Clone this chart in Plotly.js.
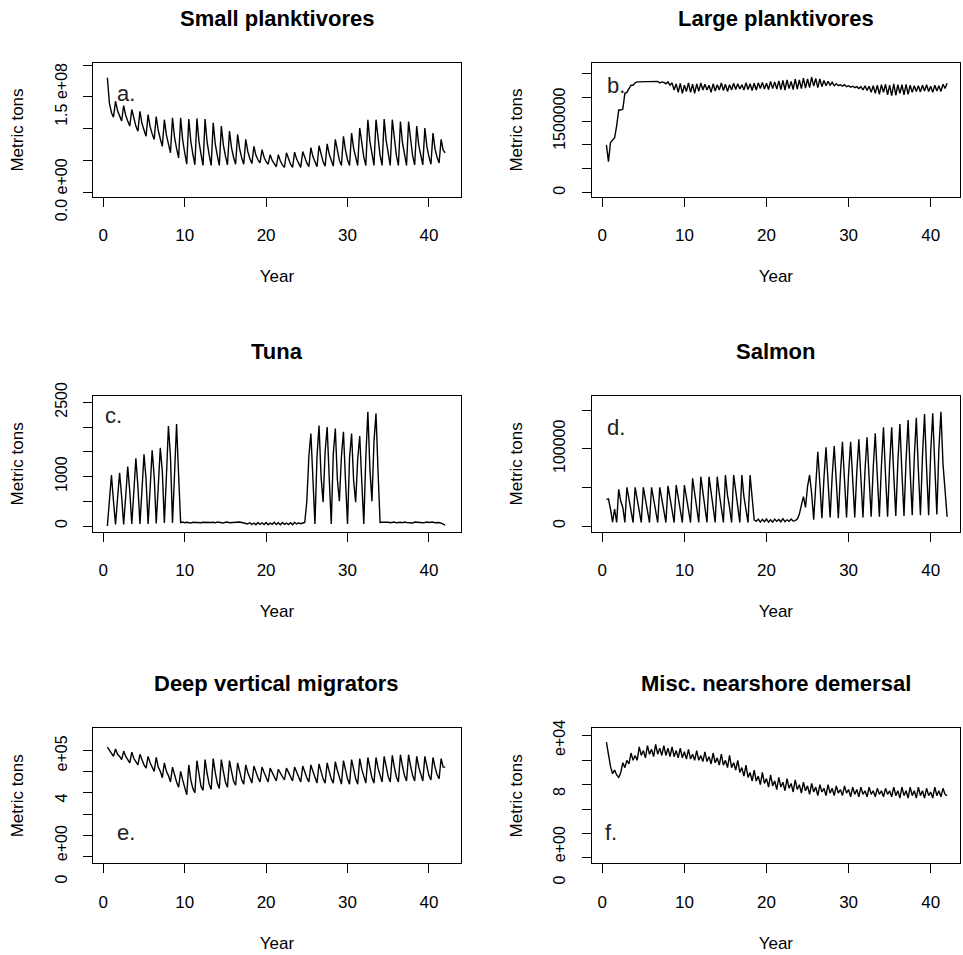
<!DOCTYPE html>
<html><head><meta charset="utf-8">
<script src="https://cdn.plot.ly/plotly-3.0.1.min.js"></script>
<style>html,body{margin:0;padding:0;background:#fff}#chart{width:963px;height:955px}</style>
</head><body><div id="chart"></div>
<script>
// ---- data (quarterly values) ----
// a. Small planktivores, million metric tons
const smallPlanktivores = [
180,140,125,118, 143,128,120,112, 136,121,112,104, 130,114,104,96,
127,108,97,88, 122,103,92,83, 119,97,84,72, 114,90,76,62,
117,86,69,54, 117,82,62,44, 115,80,60,43, 116,80,60,42,
115,79,59,42, 109,76,58,42, 104,74,57,43, 96,70,55,44,
91,68,54,44, 83,64,53,45, 72,58,51,46, 67,55,48,44,
59,50,45,40, 59,49,43,39, 62,51,44,39, 63,52,45,39,
64,53,46,40, 70,56,47,40, 73,58,48,41, 76,60,49,41,
83,63,50,42, 88,66,51,42, 93,69,53,42, 101,73,55,42,
114,80,58,42, 114,80,58,42, 115,81,58,42, 114,80,58,42,
111,78,57,42, 111,78,57,43, 104,74,56,43, 101,72,56,44,
93,68,55,46, 83,66,62];
// b. Large planktivores, thousand metric tons
const largePlanktivores = [
1000,650,1050,1100, 1150,1400,1730,1730, 1750,2080,2100,2180, 2250,2250,2300,2320,
2320,2330,2320,2320, 2330,2320,2330,2320, 2320,2330,2300,2320, 2310,2280,2320,2250,
2300,2150,2280,2100, 2290,2080,2250,2120, 2300,2100,2270,2080, 2280,2120,2300,2150,
2270,2150,2250,2100, 2280,2130,2260,2150, 2300,2140,2270,2120, 2260,2150,2290,2160,
2280,2170,2260,2150, 2300,2160,2280,2140, 2290,2150,2300,2180, 2310,2170,2290,2160,
2330,2180,2320,2170, 2340,2160,2350,2150, 2360,2180,2330,2160, 2380,2170,2360,2180,
2400,2190,2380,2200, 2420,2230,2390,2200, 2380,2220,2350,2240, 2330,2250,2310,2240,
2280,2240,2260,2230, 2260,2220,2240,2210, 2230,2200,2220,2180, 2220,2150,2240,2140,
2230,2100,2240,2080, 2250,2060,2260,2100, 2270,2050,2250,2030, 2280,2040,2260,2080,
2260,2050,2270,2060, 2250,2100,2240,2120, 2240,2110,2250,2130, 2260,2120,2230,2100,
2250,2130,2240,2120, 2270,2180,2290];
// c. Tuna, metric tons
const tuna = [
0,490,1030,500, 30,560,1077,600, 30,600,1200,700, 40,700,1370,800,
40,730,1450,950, 40,760,1530,1000, 50,800,1580,1100, 60,1000,2020,1400,
60,1050,2060,1030, 70,80,65,75, 70,60,75,70, 80,70,65,75,
70,80,60,70, 75,65,80,70, 70,60,75,80, 65,70,60,75,
70,80,70,60, 55,40,70,30, 60,25,70,35, 65,30,70,25,
60,35,75,30, 65,25,70,35, 60,30,65,25, 70,40,65,45,
60,70,500,1400, 1870,950,40,1400, 2030,1000,480,1500, 2000,980,40,1450,
1970,950,500,1400, 1905,930,40,1380, 1870,920,480,1350, 1820,900,40,1400,
2310,1150,500,1700, 2275,1100,70,75, 80,70,75,65, 70,80,65,75,
75,65,80,70, 70,75,60,80, 75,70,80,65, 70,80,70,75,
80,65,75,70, 60,40,20];
// d. Salmon, metric tons
const salmon = [
34500,35000,22000,5000, 22000,4500,47400,32000, 24000,4500,50000,34000, 22000,4500,50000,35000,
24000,4500,50000,33000, 22000,4500,50000,35000, 24000,4500,50000,34000, 22000,4500,52000,36000,
25000,4500,53000,35000, 22000,4500,53000,37000, 25000,4500,61600,40000, 24000,4500,63800,42000,
25000,4500,63800,40000, 24000,4500,63800,42000, 25000,4500,66000,40000, 24000,4500,66000,41000,
25000,4500,66000,38000, 22000,4500,66000,38000, 7800,6000,9000,5000, 8500,5500,9000,5000,
8000,5000,9000,6000, 8500,5500,9500,5500, 8000,6000,9000,6500, 7000,9000,15000,27000,
38000,24000,51000,66000, 42000,8000,60000,96000, 55000,10000,62000,101700, 57000,11000,64000,103400,
58000,10000,66000,109000, 60000,11000,68000,109000, 60000,11000,70000,112000, 62000,11000,72000,114700,
62000,12000,75000,119800, 64000,12000,78000,127600, 65000,12000,80000,127600, 66000,13000,82000,131900,
68000,13000,85000,137000, 70000,14000,88000,140000, 72000,14000,90000,144800, 75000,14000,95000,145700,
78000,15000,100000,147800, 80000,44000,12000];
// e. Deep vertical migrators, thousand metric tons
const deepMigrators = [
514,500,480,470, 505,480,470,455, 495,470,455,440, 490,460,445,430,
480,450,430,415, 470,440,420,400, 465,420,400,370, 440,400,380,350,
420,380,350,325, 400,360,320,290, 430,360,320,300, 450,380,330,310,
455,390,340,315, 460,395,345,320, 455,400,350,325, 450,400,355,335,
440,400,360,340, 430,395,365,345, 425,395,370,350, 420,395,370,350,
415,395,375,355, 410,390,375,360, 415,395,375,355, 420,395,370,350,
425,395,370,350, 430,400,370,345, 435,400,365,345, 440,400,365,345,
445,405,365,340, 450,405,365,340, 455,410,365,340, 460,410,370,345,
465,415,370,345, 465,415,375,350, 470,420,375,350, 475,420,375,350,
478,425,380,355, 478,425,380,355, 470,420,380,355, 470,420,380,360,
465,420,385,365, 460,420,420];
// f. Misc. nearshore demersal, thousand metric tons
const nearshoreDemersal = [
95,85,75,69, 72,68,66,70, 78,74,80,77, 86,80,84,80,
91,84,88,82, 92,85,89,83, 93,85,90,84, 92,84,90,83,
91,83,88,82, 90,82,87,81, 89,81,85,80, 88,80,84,79,
87,79,83,77, 86,78,82,76, 85,76,80,74, 84,74,78,72,
80,70,74,67, 76,66,70,63, 72,63,67,60, 70,61,65,58,
68,59,63,56, 66,58,62,55, 65,57,61,54, 64,56,60,53,
62,55,59,52, 61,54,58,51, 60,54,57,51, 60,53,57,51,
59,53,56,51, 59,53,56,50, 58,52,56,50, 58,52,55,50,
58,52,55,50, 57,52,55,50, 57,52,55,50, 58,51,55,49,
58,51,55,49, 58,51,55,49, 58,51,55,49, 57,51,54,49,
58,51,55,50, 57,52,51];

// ---- tick labels ----
const yearTicks = [0, 10, 20, 30, 40];
const aTicks = [0, 5e7, 1e8, 1.5e8, 2e8];
const aTickText = ['0.0 e+00', '', '', '1.5 e+08', ''];
const bTicks = [0, 5e5, 1e6, 1.5e6, 2e6, 2.5e6];
const bTickText = ['0', '', '', '1500000', '', ''];
const cTicks = [0, 500, 1000, 1500, 2000, 2500];
const cTickText = ['0', '', '1000', '', '', '2500'];
const dTicks = [0, 50000, 100000, 150000];
const dTickText = ['0', '', '100000', ''];
const eTicks = [0, 1e5, 2e5, 3e5, 4e5, 5e5];
const eTickText = ['0\u00a0\u00a0\u00a0e+00', '', '', '', '4\u00a0\u00a0\u00a0\u00a0\u00a0e+05', ''];
const fTicks = [0, 2e4, 4e4, 6e4, 8e4, 1e5];
const fTickText = ['0\u00a0\u00a0\u00a0e+00', '', '', '', '8\u00a0\u00a0\u00a0\u00a0\u00a0\u00a0\u00a0e+04', ''];

// ---- time axis: quarterly steps starting mid-year 0 ----
const t0 = 0.5, dt = 0.25;
function timeSteps(n) { const t = []; for (let i = 0; i < n; i++) t.push(t0 + dt * i); return t; }

// ---- layout geometry (pixels) ----
const W = 963, H = 955;
const px = x => x / W, py = y => 1 - y / H;
const cols = { L: [93.3, 460.5], R: [591.7, 960] };
const rows = { 1: [63.3, 196.7], 2: [396, 531.7], 3: [728.3, 863.3] };
const xRange = { L: [-1.23, 43.88], R: [-1.29, 43.57] };

const panels = [
  { title: 'Small planktivores', letter: 'a.', v: smallPlanktivores, k: 1e6, c: 'L', r: 1, yr: [-7.1e6, 202.7e6], tv: aTicks, tt: aTickText, lp: [115, 94] },
  { title: 'Large planktivores', letter: 'b.', v: largePlanktivores, k: 1e3, c: 'R', r: 1, yr: [-84e3, 2709e3], tv: bTicks, tt: bTickText, lp: [605, 85] },
  { title: 'Tuna', letter: 'c.', v: tuna, k: 1, c: 'L', r: 2, yr: [-115, 2627], tv: cTicks, tt: cTickText, lp: [103, 416] },
  { title: 'Salmon', letter: 'd.', v: salmon, k: 1, c: 'R', r: 2, yr: [-7370, 168100], tv: dTicks, tt: dTickText, lp: [605, 427] },
  { title: 'Deep vertical migrators', letter: 'e.', v: deepMigrators, k: 1e3, c: 'L', r: 3, yr: [-30.9e3, 601.7e3], tv: eTicks, tt: eTickText, lp: [115, 832] },
  { title: 'Misc. nearshore demersal', letter: 'f.', v: nearshoreDemersal, k: 1e3, c: 'R', r: 3, yr: [-4.6e3, 106.3e3], tv: fTicks, tt: fTickText, lp: [603, 832] }
];

const FONT = 'Liberation Sans, Arial, Helvetica, sans-serif';
const traces = [];
const layout = {
  width: W, height: H, margin: { l: 0, r: 0, t: 0, b: 0 },
  paper_bgcolor: '#fff', plot_bgcolor: '#fff', showlegend: false,
  font: { family: FONT, color: '#000', size: 16 },
  annotations: []
};

panels.forEach((p, i) => {
  const n = i + 1, xs = n === 1 ? '' : n, ys = n === 1 ? '' : n;
  const xb = cols[p.c], yb = rows[p.r];
  traces.push({
    type: 'scatter', mode: 'lines', x: timeSteps(p.v.length), y: p.v.map(v => v * p.k),
    xaxis: 'x' + xs, yaxis: 'y' + ys, line: { color: '#000', width: 1.4 }, hoverinfo: 'skip'
  });
  layout['xaxis' + xs] = {
    domain: [px(xb[0]), px(xb[1])], range: xRange[p.c], anchor: 'y' + ys,
    tickmode: 'array', tickvals: yearTicks, ticktext: yearTicks.map(String),
    ticks: 'outside', ticklen: 9, tickwidth: 1, tickcolor: '#000',
    showline: true, mirror: true, linecolor: '#000', linewidth: 1,
    showgrid: false, zeroline: false, ticklabelstandoff: 14,
    tickfont: { family: FONT, size: 17, color: '#000' },
    title: { text: 'Year', font: { family: FONT, size: 17, color: '#000' }, standoff: 26 }
  };
  layout['yaxis' + ys] = {
    domain: [py(yb[1]), py(yb[0])], range: p.yr, anchor: 'x' + xs,
    tickmode: 'array', tickvals: p.tv, ticktext: p.tt, tickangle: -90,
    ticks: 'outside', ticklen: 9, tickwidth: 1, tickcolor: '#000',
    showline: true, mirror: true, linecolor: '#000', linewidth: 1,
    showgrid: false, zeroline: false, ticklabelstandoff: 10,
    tickfont: { family: FONT, size: 16, color: '#000' },
    title: { text: 'Metric tons', font: { family: FONT, size: 17, color: '#000' }, standoff: 24 }
  };
  layout.annotations.push({
    text: '<b>' + p.title + '</b>', xref: 'paper', yref: 'paper',
    x: px((xb[0] + xb[1]) / 2), y: py(yb[0] - 45), xanchor: 'center', yanchor: 'middle',
    showarrow: false, font: { family: FONT, size: 22, color: '#000' }
  });
  layout.annotations.push({
    text: p.letter, xref: 'paper', yref: 'paper',
    x: px(p.lp[0]), y: py(p.lp[1]), xanchor: 'left', yanchor: 'middle',
    showarrow: false, font: { family: FONT, size: 22, color: '#222' }
  });
});

Plotly.newPlot('chart', traces, layout, { displayModeBar: false, staticPlot: true });
</script>
</body></html>
